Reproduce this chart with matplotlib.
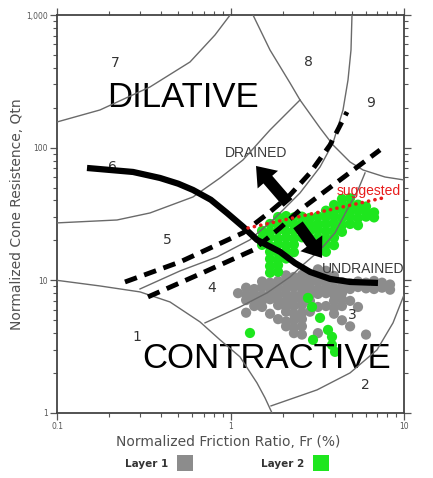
import matplotlib
matplotlib.use("Agg")
import matplotlib.pyplot as plt
from matplotlib.lines import Line2D
from matplotlib.ticker import NullFormatter

# ---------------- data ----------------
x_ticks = [0.1, 1, 10]
x_tick_labels = ["0.1", "1", "10"]
y_ticks = [1, 10, 100, 1000]
y_tick_labels = ["1", "10", "100", "1,000"]

# zone boundaries (Fr %, Qtn)
zone1_fr = [0.1, 0.1769, 0.3009, 0.4479, 0.6672, 0.8699, 1.134, 1.421, 1.581, 1.735]
zone1_q = [10.0, 9.07, 8.18, 6.87, 4.86, 3.56, 2.65, 1.686, 1.30, 1.0]
zone2_fr = [1.712, 3.152, 4.885, 6.988, 8.643, 10.0]
zone2_q = [1.131, 1.493, 2.005, 2.99, 4.78, 7.76]
zone34_fr = [0.7128, 1.134, 1.623, 2.203, 2.618, 3.281, 4.004, 4.694, 5.431, 5.961]
zone34_q = [4.78, 6.30, 8.04, 10.6, 13.1, 16.9, 22.8, 33.9, 48.0, 64.5]
zone45_fr = [0.3009, 0.5116, 0.8359, 1.295, 1.805, 2.516, 3.281, 3.898, 4.451, 4.756, 4.949, 5.014]
zone45_q = [8.61, 11.77, 15.0, 20.2, 29.5, 45.6, 71.5, 108.5, 192.4, 323.7, 544.8, 1000]
zone56_fr = [0.1, 0.2217, 0.3436, 0.6079, 0.8699, 1.180, 1.689, 2.516]
zone56_q = [27.1, 28.5, 32.2, 42.5, 59.1, 80.8, 135.9, 228.8]
zone7_fr = [0.1, 0.1769, 0.3436, 0.5842, 0.8138, 0.9949]
zone7_q = [156.2, 192.4, 286.8, 442.4, 706.9, 1000]
zone8_fr = [1.348, 1.689, 2.203, 2.516, 3.281, 3.898, 4.885, 5.803, 7.772, 10.0]
zone8_q = [1000, 544.8, 307.4, 228.8, 140.8, 104.8, 78.0, 67.9, 60.1, 57.1]

zone_names = ["1", "2", "3", "4", "5", "6", "7", "8", "9"]
zone_label_fr = [0.2891, 5.961, 5.015, 0.7822, 0.4305, 0.2075, 0.216, 2.797, 6.453]
zone_label_q = [3.75, 1.628, 5.49, 8.76, 20.2, 71.5, 434.8, 442.4, 217.3]

# interpretation lines
thick_fr = [0.1489, 0.2742, 0.3925, 0.5000, 0.6079, 0.7700, 0.9546, 1.180, 1.421, 1.929, 2.354, 2.873, 3.747, 4.885, 7.08]
thick_q = [70.3, 65.6, 59.1, 53.5, 48.0, 40.5, 32.2, 25.4, 20.2, 16.4, 13.5, 11.57, 10.25, 9.72, 9.56]
upper_dash_fr = [0.2465, 0.5116, 1.180, 1.689, 2.203, 2.873, 3.747, 4.694]
upper_dash_q = [9.72, 13.76, 22.8, 32.8, 44.0, 64.5, 104.8, 185.8]
lower_dash_fr = [0.3345, 0.6672, 1.348, 1.929, 2.516, 4.278, 7.273]
lower_dash_q = [7.50, 11.17, 16.9, 24.8, 33.9, 57.1, 96.1]
suggested_fr = [1.261, 7.568]
suggested_q = [24.8, 41.8]

arrow_up_tail = (2.145, 38.3)
arrow_up_tip = (1.403, 72.8)
arrow_down_tail = (2.449, 26.2)
arrow_down_tip = (3.368, 14.75)

# Layer 1 (grey)
layer1_fr = [3.19, 3.55,
             2.09, 2.32, 2.58, 2.87, 3.19, 3.55, 3.95,
             1.52, 1.69, 1.88, 2.09, 2.32, 2.58, 2.87, 3.19, 3.55, 3.95, 4.39, 4.89, 5.43, 6.04, 6.72, 7.47, 8.31,
             1.23, 1.37, 1.52, 1.69, 1.88, 2.09, 2.32, 2.58, 2.87, 3.19, 3.55, 3.95, 4.39, 4.89, 5.43, 6.04, 6.72, 7.47, 8.31,
             1.105, 1.23, 1.37, 1.52, 1.69, 1.88, 2.09, 2.32, 2.58, 2.87, 3.19, 3.55, 3.95, 4.39,
             1.23, 1.37, 1.52, 1.69, 1.88, 2.09, 2.32, 2.58, 2.87, 3.95, 4.39, 4.89,
             1.37, 1.52, 1.88, 2.09, 2.32, 2.58, 3.19, 3.55, 3.95, 4.39, 5.43,
             1.23, 1.69, 2.09, 2.32, 2.58, 2.87, 3.95,
             1.88, 2.09, 2.32, 2.58, 4.39,
             2.09, 2.32, 2.58, 4.89,
             2.32, 2.58, 3.19, 6.04]
layer1_q = [12.1, 11.8,
            10.9, 10.6, 11.0, 10.7, 10.9, 10.6, 10.8,
            9.8, 9.6, 9.9, 9.7, 9.5, 9.8, 9.6, 9.8, 9.6, 9.9, 9.7, 9.5, 9.8, 9.6, 9.9, 9.6, 9.3,
            8.8, 8.6, 8.9, 8.7, 8.8, 8.6, 8.9, 8.7, 8.8, 8.6, 8.9, 8.7, 8.8, 8.6, 8.9, 8.7, 8.6, 8.8, 8.5,
            8.0, 7.8, 7.9, 7.7, 8.0, 7.8, 7.9, 7.7, 8.0, 7.8, 7.9, 8.0, 7.8, 8.0,
            7.1, 7.2, 7.0, 7.2, 7.1, 7.0, 7.2, 7.1, 7.0, 7.0, 7.2, 7.0,
            6.4, 6.3, 6.5, 6.3, 6.4, 6.5, 6.3, 6.4, 6.2, 6.4, 6.3,
            5.7, 5.6, 5.8, 5.6, 5.7, 5.8, 5.6,
            5.1, 4.9, 5.0, 5.1, 5.0,
            4.5, 4.4, 4.5, 4.5,
            4.0, 3.9, 4.0, 3.9]

# Layer 2 (green)
layer2_fr = [4.39, 4.89,
             3.95, 4.39, 4.89, 5.43, 6.04,
             3.55, 3.95, 4.39, 4.89, 5.43, 6.04, 6.72,
             1.88, 2.09, 2.32, 2.58, 2.87, 3.19, 3.55, 3.95, 4.39, 4.89, 5.43, 6.04, 6.72,
             1.69, 1.88, 2.09, 2.32, 2.58, 2.87, 3.19, 3.55, 3.95, 4.39, 4.89, 5.43,
             1.52, 1.69, 1.88, 2.09, 2.32, 2.58, 2.87, 3.19, 3.55, 3.95, 4.39,
             1.52, 1.69, 1.88, 2.09, 2.32, 2.58, 2.87, 3.19, 3.55, 3.95,
             1.52, 1.69, 1.88, 2.09, 2.32, 3.19, 3.55, 3.95,
             1.69, 1.88, 2.09, 2.32, 3.55,
             1.69, 1.88, 2.09,
             1.69, 1.88,
             1.69, 1.88,
             1.295, 2.797, 2.950, 3.281, 3.647, 3.846, 2.989, 3.846, 4.004]
layer2_q = [41.0, 41.5,
            37.0, 37.5, 36.5, 37.2, 36.0,
            33.5, 33.0, 34.0, 33.2, 33.6, 33.0, 32.5,
            30.0, 30.5, 29.8, 30.2, 29.6, 30.3, 29.9, 30.4, 29.7, 30.1, 29.5, 30.2, 29.8,
            26.6, 26.2, 26.9, 26.4, 26.8, 26.3, 26.7, 26.5, 26.9, 26.2, 26.6, 26.0,
            23.6, 23.2, 23.8, 23.4, 23.7, 23.3, 23.6, 23.9, 23.4, 23.7, 23.2,
            20.9, 21.2, 20.6, 21.0, 20.7, 21.1, 20.8, 21.0, 20.6, 21.0,
            18.5, 18.2, 18.7, 18.4, 18.6, 18.3, 18.6, 18.4,
            16.4, 16.2, 16.5, 16.3, 16.4,
            14.5, 14.3, 14.6,
            12.8, 13.0,
            11.4, 11.6,
            4.01, 7.37, 6.30, 5.21, 4.23, 3.75, 3.56, 3.26, 2.89]

layer_names = ["Layer 1", "Layer 2"]
layer_colors = ["#8c8c8c", "#1ee61e"]

# ---------------- figure ----------------
W, H = 433, 478
fig = plt.figure(figsize=(W / 100, H / 100), dpi=100)
ax = fig.add_axes([57 / W, 1 - 413 / H, 347 / W, 398 / H])
ax.set_xscale("log")
ax.set_yscale("log")
ax.set_xlim(0.1, 10)
ax.set_ylim(1, 1000)

ax.set_xticks(x_ticks, labels=x_tick_labels)
ax.set_yticks(y_ticks, labels=y_tick_labels)
ax.xaxis.set_minor_formatter(NullFormatter())
ax.yaxis.set_minor_formatter(NullFormatter())
ax.tick_params(which="both", direction="out", top=True, right=True,
               labeltop=False, labelright=False, colors="#555555",
               labelsize=5.5, pad=1.5)
ax.tick_params(which="major", length=5, width=0.9)
ax.tick_params(which="minor", length=3, width=0.8)
for s in ax.spines.values():
    s.set_color("#444444")
    s.set_linewidth(1.3)

# scatter
ax.scatter(layer1_fr, layer1_q, s=54, c=layer_colors[0], edgecolors="none", zorder=2)
ax.scatter(layer2_fr, layer2_q, s=54, c=layer_colors[1], edgecolors="none", zorder=2.5)

# zone boundaries
zc = "#6a6a6a"
for xs, ys in [(zone1_fr, zone1_q), (zone2_fr, zone2_q), (zone34_fr, zone34_q),
               (zone45_fr, zone45_q), (zone56_fr, zone56_q), (zone7_fr, zone7_q),
               (zone8_fr, zone8_q)]:
    ax.plot(xs, ys, color=zc, lw=1.0, zorder=4)

for name, fx, qy in zip(zone_names, zone_label_fr, zone_label_q):
    ax.text(fx, qy, name, fontsize=10, color="#333333", ha="center", va="center", zorder=3)

# dashed band
for xs, ys in [(upper_dash_fr, upper_dash_q), (lower_dash_fr, lower_dash_q)]:
    ax.plot(xs, ys, color="black", lw=3.5, linestyle=(0, (2.6, 1.6)), zorder=5)

# thick state line
ax.plot(thick_fr, thick_q, color="black", lw=4.5, solid_capstyle="butt",
        solid_joinstyle="round", zorder=6)

# suggested red dotted line
ax.plot(suggested_fr, suggested_q, color="#e81c1c", lw=2.6, linestyle=(0, (0.05, 1.75)),
        dash_capstyle="round", zorder=6)
ax.text(4.111, 44.0, "suggested", fontsize=10, color="#e81c1c", family="Liberation Sans",
        ha="left", va="baseline", zorder=6)

# arrows
astyle = "simple,head_length=0.65,head_width=0.97,tail_width=0.42"
for tail, tip in [(arrow_up_tail, arrow_up_tip), (arrow_down_tail, arrow_down_tip)]:
    ax.annotate("", xy=tip, xytext=tail,
                arrowprops=dict(arrowstyle=astyle, color="black", mutation_scale=20,
                                shrinkA=0, shrinkB=0, lw=0), zorder=7)

# region texts
ax.text(0.9296, 85.1, "DRAINED", fontsize=10, color="#3a3a3a", family="Liberation Sans",
        ha="left", va="baseline", zorder=3)
ax.text(3.368, 11.37, "UNDRAINED", fontsize=10, color="#3a3a3a", family="Liberation Sans",
        ha="left", va="baseline", zorder=3)
ax.text(0.1942, 202.6, "DILATIVE", fontsize=25, color="black", family="Liberation Sans",
        ha="left", va="baseline", zorder=3)
ax.text(0.3090, 2.187, "CONTRACTIVE", fontsize=25, color="black", family="Liberation Sans",
        ha="left", va="baseline", zorder=3)

# axis labels
ax.set_xlabel("Normalized Friction Ratio, Fr (%)", fontsize=10, color="#505050")
ax.xaxis.set_label_coords(0.493, -0.055)
ax.set_ylabel("Normalized Cone Resistence, Qtn", fontsize=10, color="#505050")
ax.yaxis.set_label_coords(-0.095, 0.5)

# legend
handles = [Line2D([], [], marker="s", ls="none", markersize=11.5, color=c,
                  markeredgewidth=0) for c in layer_colors]
fig.legend(handles, layer_names, ncol=2, markerfirst=False, frameon=False,
           loc="center", bbox_to_anchor=(227.5 / W, 1 - 464 / H),
           prop=dict(family="DejaVu Sans", weight="bold", size=7.5),
           handlelength=1.6, handletextpad=0.8, columnspacing=6.5,
           labelcolor="#333333")

fig.savefig("out.png", dpi=100, facecolor="white")
